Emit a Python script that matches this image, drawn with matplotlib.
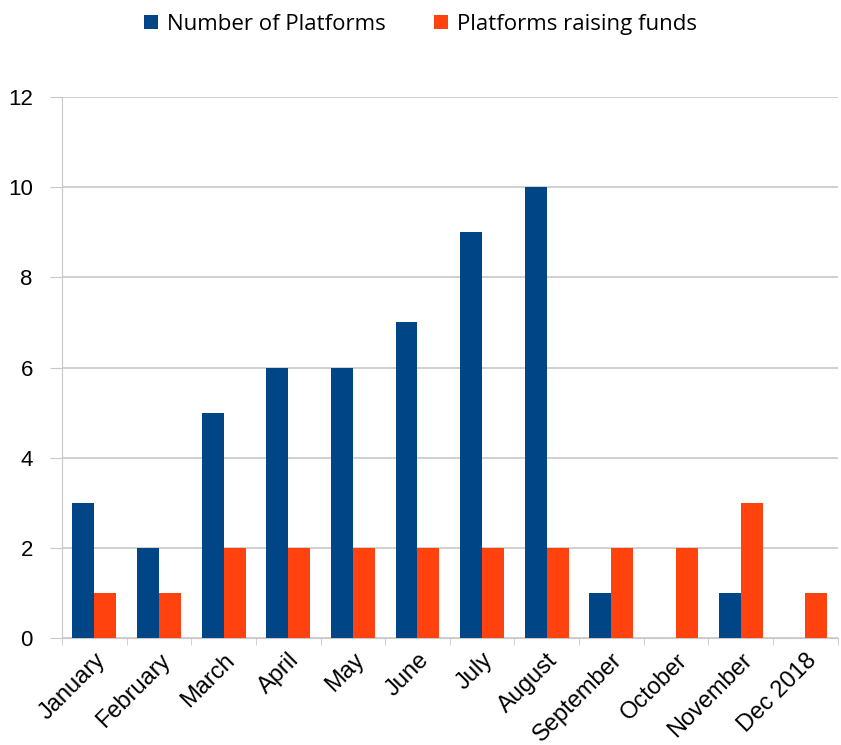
import numpy as np
import matplotlib.pyplot as plt

months = ['January', 'February', 'March', 'April', 'May', 'June', 'July',
          'August', 'September', 'October', 'November', 'Dec 2018']
platforms = [3, 2, 5, 6, 6, 7, 9, 10, 1, 0, 1, 0]
raising = [1, 1, 2, 2, 2, 2, 2, 2, 2, 2, 3, 1]

plt.rcParams['font.family'] = ['Liberation Sans', 'DejaVu Sans']

fig = plt.figure(figsize=(8.41, 7.45), dpi=100)
ax = fig.add_axes([0.0737, 0.1436, 0.9223, 0.7262])

x = np.arange(len(months))
w = 0.34
ax.bar(x - w / 2, platforms, w, color='#004586', label='Number of Platforms', zorder=3)
ax.bar(x + w / 2, raising, w, color='#ff420e', label='Platforms raising funds', zorder=3)

ax.set_xlim(-0.5, len(months) - 0.5)
ax.set_ylim(0, 12)
ax.set_yticks(range(0, 13, 2))
ax.yaxis.grid(True, color='#c8c8c8', linewidth=1.2, zorder=0)
ax.tick_params(axis='y', length=9, color='#c8c8c8', labelsize=16, pad=12)

ax.set_xticks(x)
ax.set_xticklabels(months, rotation=45, ha='right', rotation_mode='anchor', fontsize=17)
ax.tick_params(axis='x', length=0, pad=8)
ax.set_xticks(np.arange(len(months) + 1) - 0.5, minor=True)
ax.tick_params(axis='x', which='minor', length=5, color='#c8c8c8')

for s in ['top', 'right']:
    ax.spines[s].set_visible(False)
ax.spines['left'].set_color('#c8c8c8')
ax.spines['bottom'].set_color('#c8c8c8')

fig.legend(loc='upper center', bbox_to_anchor=(0.5, 1.008), ncol=2, frameon=False,
           handlelength=0.6, handleheight=0.6, handletextpad=0.4,
           columnspacing=2.2, prop={'family': 'Open Sans', 'size': 16})

fig.savefig('out.png', dpi=100)
